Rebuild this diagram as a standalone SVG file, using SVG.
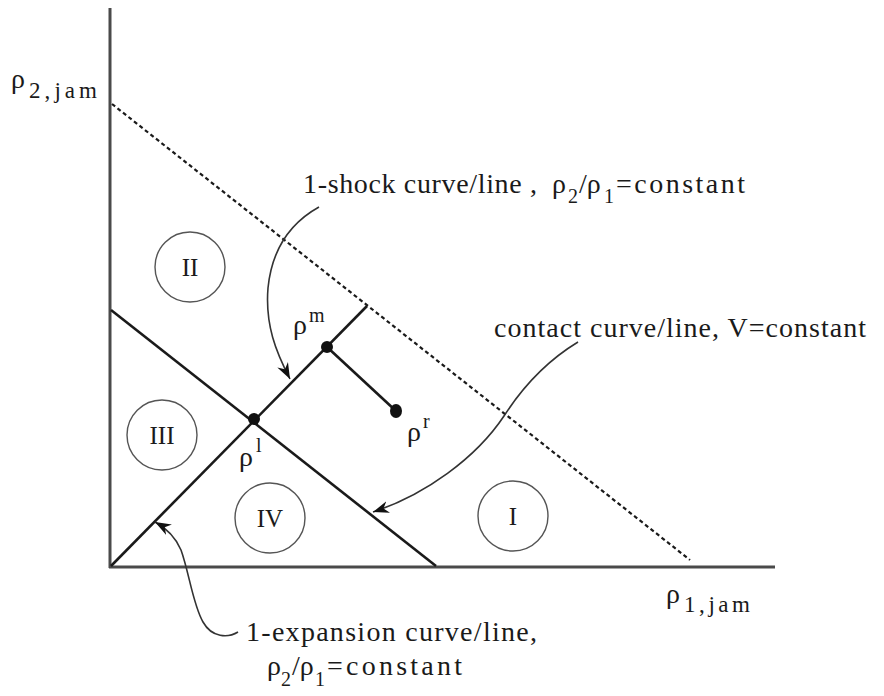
<svg xmlns="http://www.w3.org/2000/svg" width="884" height="696" viewBox="0 0 884 696">
<style>
.t{font-family:"Liberation Serif","DejaVu Serif",serif;font-size:28px;fill:#1a1a1a}
.s{font-size:20px}
.j{font-size:23px}
.r{font-size:25px}
.ax{stroke:#4a4a4a;stroke-width:3;fill:none}
.ln{stroke:#1a1a1a;stroke-width:2.6;fill:none}
.dash{stroke:#1a1a1a;stroke-width:2.2;stroke-dasharray:4 3;fill:none}
.arc{stroke:#333;stroke-width:1.6;fill:none;marker-end:url(#ah)}
.reg{fill:none;stroke:#555;stroke-width:1.4}
.dot{fill:#111}
</style>
<defs>
<marker id="ah" markerUnits="userSpaceOnUse" markerWidth="18" markerHeight="14" refX="16" refY="6" orient="auto">
<path d="M0,0 L16,6 L0,12 L5,6 Z" fill="#111"/>
</marker>
</defs>
<rect width="884" height="696" fill="#fff"/>
<g id="axes">
<line class="ax" x1="110" y1="8" x2="110" y2="568"/>
<line class="ax" x1="109" y1="567" x2="775" y2="567"/>
<text class="t" x="11" y="88">ρ<tspan class="j" x="29" y="98" textLength="68" lengthAdjust="spacing">2,jam</tspan></text>
<text class="t" x="666" y="603">ρ<tspan class="j" x="684" y="612" textLength="66" lengthAdjust="spacing">1,jam</tspan></text>
</g>
<g id="connectors">
<line class="dash" x1="112" y1="104" x2="690" y2="560"/>
<line id="contact-line" class="ln" x1="111" y1="310" x2="436" y2="566"/>
<line id="wave-line" class="ln" x1="111" y1="566" x2="367" y2="306"/>
<line class="ln" x1="327" y1="347" x2="396" y2="411"/>
<path class="arc" d="M319,207 C292,222 272,248 268,288 C265,325 276,352 290,379"/>
<path class="arc" d="M578,342 C545,362 522,388 504,416 C476,458 425,495 373,512"/>
<path class="arc" d="M238,632 C228,638 212,638 203,622 C193,605 189,572 181,550 C175,536 166,528 155,522"/>
</g>
<g id="region-II"><circle class="reg" cx="190" cy="267" r="35"/><text class="t r" x="190" y="276" text-anchor="middle">II</text></g>
<g id="region-III"><circle class="reg" cx="162" cy="435" r="35"/><text class="t r" x="162" y="444" text-anchor="middle">III</text></g>
<g id="region-IV"><circle class="reg" cx="270" cy="518" r="35"/><text class="t r" x="270" y="527" text-anchor="middle">IV</text></g>
<g id="region-I"><circle class="reg" cx="513" cy="516" r="35"/><text class="t r" x="513" y="525" text-anchor="middle">I</text></g>
<g id="rho-l"><circle class="dot" cx="254" cy="419" r="6"/><text class="t" x="239" y="466">ρ<tspan class="s" x="256" y="452">l</tspan></text></g>
<g id="rho-m"><circle class="dot" cx="327" cy="347" r="6"/><text class="t" x="293" y="334">ρ<tspan class="s" x="309" y="322">m</tspan></text></g>
<g id="rho-r"><ellipse class="dot" cx="396" cy="411" rx="6" ry="7"/><text class="t" x="407" y="441">ρ<tspan class="s" x="423" y="428">r</tspan></text></g>
<g id="label-shock">
<text class="t" y="193"><tspan x="303" textLength="234" lengthAdjust="spacing">1-shock curve/line ,</tspan><tspan x="552">ρ</tspan><tspan class="s" x="568" y="203">2</tspan><tspan x="579" y="193">/ρ</tspan><tspan class="s" x="604" y="203">1</tspan><tspan x="616" y="193" textLength="129" lengthAdjust="spacing">=constant</tspan></text>
</g>
<g id="label-contact">
<text class="t" x="494" y="337" textLength="372" lengthAdjust="spacing">contact curve/line, V=constant</text>
</g>
<g id="label-expansion">
<text class="t" x="246" y="641" textLength="291" lengthAdjust="spacing">1-expansion curve/line,</text>
<text class="t" y="675"><tspan x="267">ρ</tspan><tspan class="s" x="281" y="686">2</tspan><tspan x="292" y="675">/ρ</tspan><tspan class="s" x="315" y="686">1</tspan><tspan x="327" y="675" textLength="135" lengthAdjust="spacing">=constant</tspan></text>
</g>
</svg>
